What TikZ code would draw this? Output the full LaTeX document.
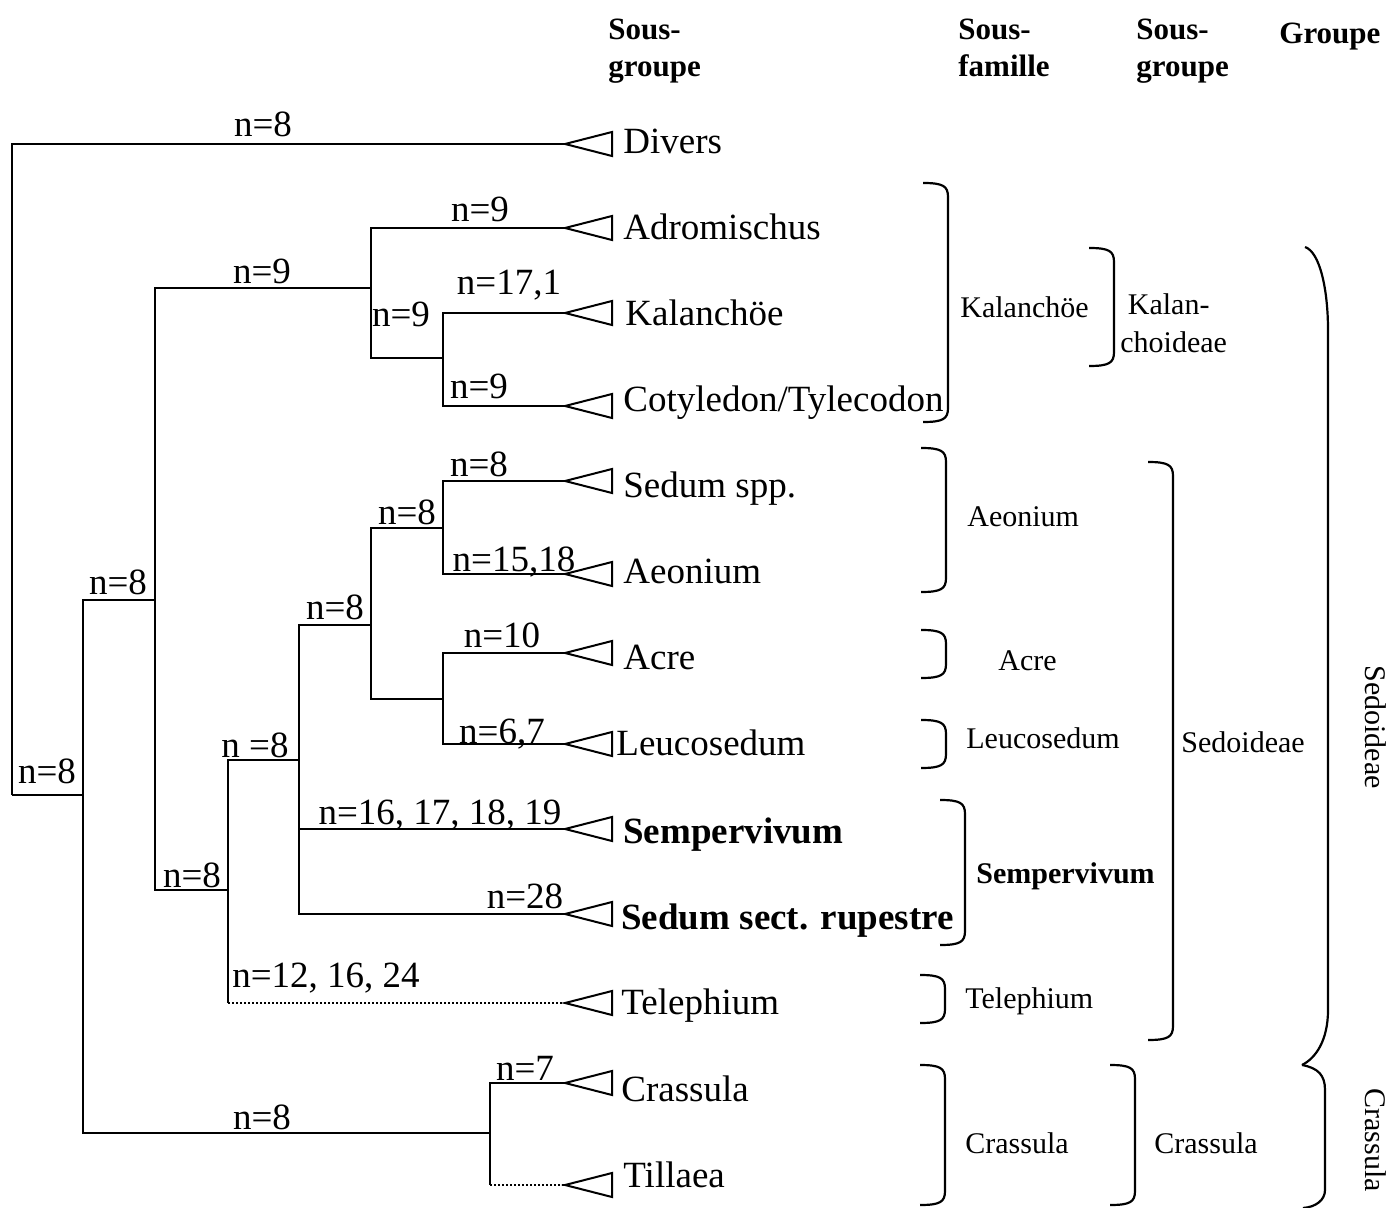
\documentclass[tikz,border=0pt]{standalone}
\usepackage{fontspec}
\setmainfont{Liberation Serif}
\usetikzlibrary{positioning}
\tikzset{
branch/.style={line width=1pt}, % the lines of the tree
lost/.style={branch, densely dotted}, % branches drawn dotted
tip/.style={line width=1pt, line join=miter}, % the small open triangles
brk/.style={line width=1.1pt}, % the brackets on the right
leaf/.style={anchor=base west, inner sep=0pt, font=\fontsize{18.5}{20}\selectfont},
cnt/.style={anchor=base, inner sep=0pt, font=\fontsize{18.5}{20}\selectfont}, % chromosome numbers
grp/.style={anchor=base west, inner sep=0pt, font=\fontsize{15}{19}\selectfont},
head/.style={anchor=base west, inner sep=0pt, align=left, font=\fontsize{15.5}{18.5}\selectfont\bfseries},
}
% closing bracket: x, top, bottom
\newcommand{\closebr}[3]{\draw[brk] (#1-25,#2) .. controls (#1-5,#2) and (#1,#2+3) .. (#1,#2+14) -- (#1,#3-14) .. controls (#1,#3-3) and (#1-5,#3) .. (#1-25,#3);}
% open triangle at the end of a branch
\newcommand{\leaftip}[1]{\draw[tip] (#1) -- ++(47,-12) -- ++(0,24) -- cycle;}

\begin{document}
\begin{tikzpicture}[x=0.5pt, y=-0.5pt]
      \useasboundingbox (0,0) rectangle (1387,1208);

      % headers (base is the last line)
      \node[head] (h1) at (608,77) {Sous-\\groupe};
      \node[head] (h2) at (958,77) {Sous-\\famille};
      \node[head] (h3) at (1136,77) {Sous-\\groupe};
      \node[head] (h4) at (1279,44) {Groupe};

      % inner nodes of the tree
      \coordinate (R) at (12,795);
      \coordinate (A) at (83,795);
      \coordinate (B) at (155,600);
      \coordinate (C) at (371,288);
      \coordinate (D) at (443,358);
      \coordinate (E) at (228,890);
      \coordinate (F) at (299,760);
      \coordinate (G) at (371,625);
      \coordinate (H) at (443,528);
      \coordinate (I) at (443,699);
      \coordinate (J) at (490,1133);

      % leaves
      \coordinate (divers) at (565,144);
      \coordinate (adromischus) at (565,228);
      \coordinate (kalanchoe) at (565,313);
      \coordinate (cotyledon) at (565,406);
      \coordinate (sedum) at (565,481);
      \coordinate (aeonium) at (565,574);
      \coordinate (acre) at (565,653);
      \coordinate (leucosedum) at (565,744);
      \coordinate (sempervivum) at (565,829);
      \coordinate (rupestre) at (565,914);
      \coordinate (telephium) at (565,1003);
      \coordinate (crassula) at (565,1083);
      \coordinate (tillaea) at (565,1185);

      \foreach \t in {divers, adromischus, kalanchoe, cotyledon, sedum, aeonium, acre,
        leucosedum, sempervivum, rupestre, telephium, crassula, tillaea}
        {\leaftip{\t}}

      \node[leaf] (t-divers) at (623,154) {Divers};
      \node[leaf] (t-adromischus) at (623,240) {Adromischus};
      \node[leaf] (t-kalanchoe) at (625,326) {Kalanchöe};
      \node[leaf] (t-cotyledon) at (623,412) {Cotyledon/Tylecodon};
      \node[leaf] (t-sedum) at (623,497) {Sedum spp.};
      \node[leaf] (t-aeonium) at (623,583) {Aeonium};
      \node[leaf] (t-acre) at (623,669) {Acre};
      \node[leaf] (t-leucosedum) at (616,755) {Leucosedum};
      \node[leaf] (t-sempervivum) at (623,843) {\textbf{Sempervivum}};
      \node[leaf] (t-rupestre) at (621,929) {\textbf{Sedum sect. rupestre}};
      \node[leaf] (t-telephium) at (621,1014) {Telephium};
      \node[leaf] (t-crassula) at (621,1101) {Crassula};
      \node[leaf] (t-tillaea) at (623,1187) {Tillaea};

      % branches
      \draw[branch] (R) |- (divers)
      (R) -- (A)
      (A) |- (B)
      (A) |- (J)
      (B) |- (C)
      (B) |- (E)
      (C) |- (adromischus)
      (C) |- (D)
      (D) |- (kalanchoe)
      (D) |- (cotyledon)
      (E) |- (F)
      (E) -- (E |- telephium)
      (F) |- (G)
      (F) |- (sempervivum)
      (F) |- (rupestre)
      (G) |- (H)
      (G) |- (I)
      (H) |- (sedum)
      (H) |- (aeonium)
      (I) |- (acre)
      (I) |- (leucosedum)
      (J) |- (crassula)
      (J) -- (J |- tillaea);
      \draw[lost] (E |- telephium) -- (telephium);
      \draw[lost] (J |- tillaea) -- (tillaea);

      % chromosome numbers
      \node[cnt] (n-divers) at (263,137) {n=8};
      \node[cnt] (n-adromischus) at (480,222) {n=9};
      \node[cnt] (n-C) at (262,284) {n=9};
      \node[cnt] (n-kalanchoe) at (509,295) {n=17,1};
      \node[cnt] (n-D) at (401,327) {n=9};
      \node[cnt] (n-cotyledon) at (479,399) {n=9};
      \node[cnt] (n-sedum) at (479,477) {n=8};
      \node[cnt] (n-H) at (407,524) {n=8};
      \node[cnt] (n-aeonium) at (514,571) {n=15,18};
      \node[cnt] (n-G) at (335,619) {n=8};
      \node[cnt] (n-acre) at (502,647) {n=10};
      \node[cnt] (n-leucosedum) at (502,743) {n=6,7};
      \node[cnt] (n-B) at (118,594) {n=8};
      \node[cnt] (n-F) at (255,757) {n =8};
      \node[cnt] (n-A) at (47,783) {n=8};
      \node[cnt] (n-sempervivum) at (440,824) {n=16, 17, 18, 19};
      \node[cnt] (n-E) at (192,887) {n=8};
      \node[cnt] (n-rupestre) at (525,908) {n=28};
      \node[cnt] (n-telephium) at (326,987) {n=12, 16, 24};
      \node[cnt] (n-crassula) at (525,1080) {n=7};
      \node[cnt] (n-J) at (262,1129) {n=8};

      % sous-familles
      \closebr{948}{183}{422}
      \closebr{946}{448}{592}
      \closebr{946}{630}{678}
      \closebr{946}{720}{768}
      \closebr{965}{800}{945}
      \closebr{945}{975}{1023}
      \closebr{945}{1065}{1205}
      \node[grp] (g-kalanchoe) at (960,318) {Kalanchöe};
      \node[grp] (g-aeonium) at (967,526) {Aeonium};
      \node[grp] (g-acre) at (998,670) {Acre};
      \node[grp] (g-leucosedum) at (966,748) {Leucosedum};
      \node[grp] (g-sempervivum) at (976,883) {\textbf{Sempervivum}};
      \node[grp] (g-telephium) at (965,1008) {Telephium};
      \node[grp] (g-crassula) at (965,1153) {Crassula};

      % sous-groupes
      \closebr{1114}{248}{366}
      \closebr{1173}{462}{1040}
      \closebr{1135}{1065}{1205}
      \node[grp, align=left] (s-kalan) at (1120,353) {~Kalan-\\choideae};
      \node[grp] (s-sedoideae) at (1181,752) {Sedoideae};
      \node[grp] (s-crassula) at (1154,1153) {Crassula};

      % groupes
      \draw[brk] (1305,247) .. controls (1320,252) and (1328,290) .. (1328,330)
      -- (1328,1010) .. controls (1328,1040) and (1316,1058) .. (1302,1065);
      \draw[brk] (1302,1065) .. controls (1318,1068) and (1325,1075) .. (1325,1090)
      -- (1325,1190) .. controls (1325,1200) and (1316,1207) .. (1303,1208);
      \node[grp, rotate=-90, anchor=base] (r-sedoideae) at (1365,727) {Sedoideae};
      \node[grp, rotate=-90, anchor=base] (r-crassula) at (1365,1140) {Crassula};
\end{tikzpicture}
\end{document}
